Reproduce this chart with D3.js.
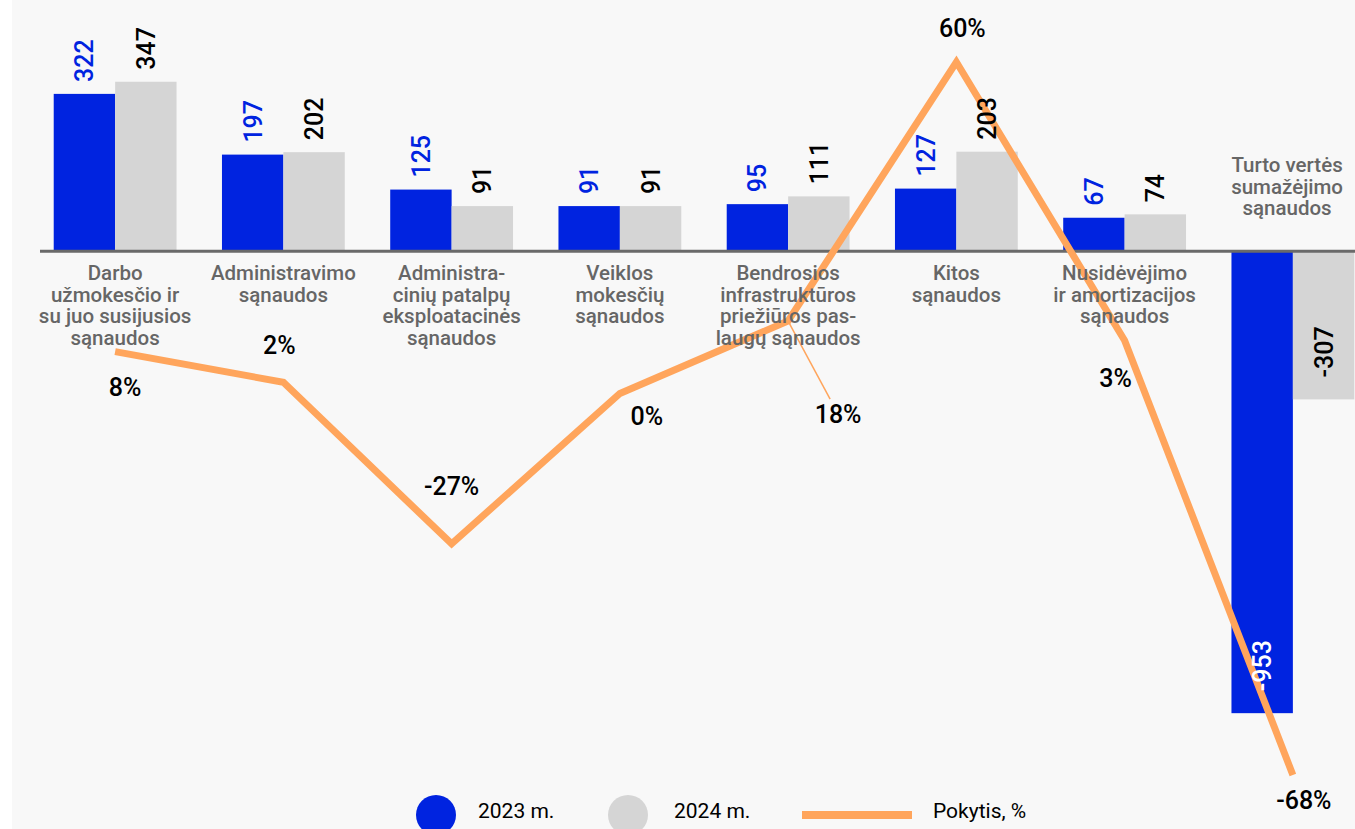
<!DOCTYPE html>
<html>
<head>
<meta charset="utf-8">
<script src="https://cdn.jsdelivr.net/npm/d3@7"></script>
<style>
body { margin: 0; background: #fff; }
svg text { font-family: Roboto, "Noto Sans", sans-serif; }
</style>
</head>
<body>
<script>
// category names, split into the lines they are printed on
var categories = [
  ["Darbo", "užmokesčio ir", "su juo susijusios", "sąnaudos"],
  ["Administravimo", "sąnaudos"],
  ["Administra-", "cinių patalpų", "eksploatacinės", "sąnaudos"],
  ["Veiklos", "mokesčių", "sąnaudos"],
  ["Bendrosios", "infrastruktūros", "priežiūros pas-", "laugų sąnaudos"],
  ["Kitos", "sąnaudos"],
  ["Nusidėvėjimo", "ir amortizacijos", "sąnaudos"],
  ["Turto vertės", "sumažėjimo", "sąnaudos"]
];
var values2023 = [322, 197, 125, 91, 95, 127, 67, -953];
var values2024 = [347, 202, 91, 91, 111, 203, 74, -307];
var change = [8, 2.5, -26.5, 0.5, 13.5, 60, 10, -68];
var changeLabels = ["8%", "2%", "-27%", "0%", "18%", "60%", "3%", "-68%"];
var seriesNames = ["2023 m.", "2024 m.", "Pokytis, %"];

var width = 1355,
    height = 829;

var blue = "#0023e0", grey = "#d5d5d5", orange = "#ffa55c";

var svg = d3.select("body").append("svg")
    .attr("width", width)
    .attr("height", height);

svg.append("rect")
    .attr("x", 12).attr("y", 0)
    .attr("width", width - 12).attr("height", height)
    .attr("fill", "#f8f8f8");

var x0 = d3.scaleBand()
    .domain(d3.range(categories.length))
    .range([31, 1377])
    .paddingInner(0.27)
    .paddingOuter(0.135);

var x1 = d3.scaleBand()
    .domain([0, 1])
    .range([0, x0.bandwidth()]);

var y = d3.scaleLinear()
    .domain([-1000, 400])
    .range([736, 56]);

var yPct = d3.scaleLinear()
    .domain([-68, 60])
    .range([775, 62]);

var cx = function(i) { return x0(i) + x0.bandwidth() / 2; };

var rows = categories.map(function(c, i) {
  return {i: i, vals: [values2023[i], values2024[i]]};
});

// bars
var group = svg.append("g").selectAll("g")
    .data(rows)
  .enter().append("g")
    .attr("transform", function(d) { return "translate(" + x0(d.i) + ",0)"; });

group.selectAll("rect")
    .data(function(d) { return d.vals; })
  .enter().append("rect")
    .attr("x", function(v, j) { return x1(j); })
    .attr("y", function(v) { return Math.min(y(v), y(0)); })
    .attr("width", x1.bandwidth())
    .attr("height", function(v) { return Math.abs(y(v) - y(0)); })
    .attr("fill", function(v, j) { return j == 0 ? blue : grey; });

// zero axis
svg.append("line")
    .attr("x1", 40).attr("x2", width)
    .attr("y1", y(0) + 1).attr("y2", y(0) + 1)
    .attr("stroke", "#6a6a6a")
    .attr("stroke-width", 3);

// change line
var line = d3.line()
    .x(function(d, i) { return cx(i); })
    .y(function(d) { return yPct(d); });

svg.append("path")
    .datum(change)
    .attr("d", line)
    .attr("fill", "none")
    .attr("stroke", orange)
    .attr("stroke-width", 7)
    .attr("stroke-linejoin", "miter");

// leader line for the crowded label
svg.append("line")
    .attr("x1", cx(4)).attr("y1", yPct(change[4]))
    .attr("x2", cx(4) + 42).attr("y2", yPct(change[4]) + 78)
    .attr("stroke", orange)
    .attr("stroke-width", 1.5);

// bar value labels, rotated
var labels = svg.append("g").selectAll("g")
    .data(rows)
  .enter().append("g")
    .attr("transform", function(d) { return "translate(" + x0(d.i) + ",0)"; });

labels.selectAll("text")
    .data(function(d) { return d.vals; })
  .enter().append("text")
    .attr("transform", function(v, j) {
      var px = x1(j) + x1.bandwidth() / 2,
          py = v >= 0 ? y(v) - 12 : y(v) - 22;
      return "translate(" + px + "," + py + ") rotate(-90)";
    })
    .attr("dy", "0.36em")
    .attr("font-size", 25)
    .attr("font-weight", 500)
    .attr("fill", function(v, j) {
      if (v < 0) return j == 0 ? "#fff" : "#000";
      return j == 0 ? blue : "#000";
    })
    .text(function(v) { return v; });

// category labels
var lineH = 21.5;
var cat = svg.append("g").selectAll("text")
    .data(categories)
  .enter().append("text")
    .attr("text-anchor", "middle")
    .attr("font-size", 20.5)
    .attr("font-weight", 500)
    .attr("fill", "#666");

cat.each(function(lines, i) {
  var neg = values2023[i] < 0;
  var top = neg ? y(0) - 42 - (lines.length - 1) * lineH : y(0) + 23;
  var t = d3.select(this);
  lines.forEach(function(l, k) {
    t.append("tspan")
      .attr("x", cx(i))
      .attr("y", top + k * lineH)
      .attr("dy", "0.35em")
      .text(l);
  });
  // keep the label inside the right edge
  var w = this.getBBox();
  var over = w.x + w.width - (width - 12);
  if (over > 0) t.selectAll("tspan").attr("x", cx(i) - over);
});

// label offsets from each line point
var labelOffsets = [[10, 36], [-4, -37], [0, -58], [27, 23], [50, 93], [6, -34], [-9, 38], [11, 25]];

svg.append("g").selectAll("text")
    .data(changeLabels)
  .enter().append("text")
    .attr("x", function(d, i) { return cx(i) + labelOffsets[i][0]; })
    .attr("y", function(d, i) { return yPct(change[i]) + labelOffsets[i][1]; })
    .attr("dy", "0.35em")
    .attr("text-anchor", "middle")
    .attr("font-size", 25)
    .attr("font-weight", 500)
    .attr("fill", "#000")
    .text(function(d) { return d; });

// legend
var legend = svg.append("g").attr("transform", "translate(0,815)");

legend.append("circle").attr("cx", 436).attr("r", 20).attr("fill", blue);
legend.append("text").attr("x", 478).attr("y", -4).attr("dy", "0.35em")
    .attr("font-size", 21).text(seriesNames[0]);

legend.append("circle").attr("cx", 628).attr("r", 20).attr("fill", grey);
legend.append("text").attr("x", 674).attr("y", -4).attr("dy", "0.35em")
    .attr("font-size", 21).text(seriesNames[1]);

legend.append("line").attr("x1", 802).attr("x2", 912)
    .attr("stroke", orange).attr("stroke-width", 8);
legend.append("text").attr("x", 933).attr("y", -4).attr("dy", "0.35em")
    .attr("font-size", 21).text(seriesNames[2]);
</script>
</body>
</html>
